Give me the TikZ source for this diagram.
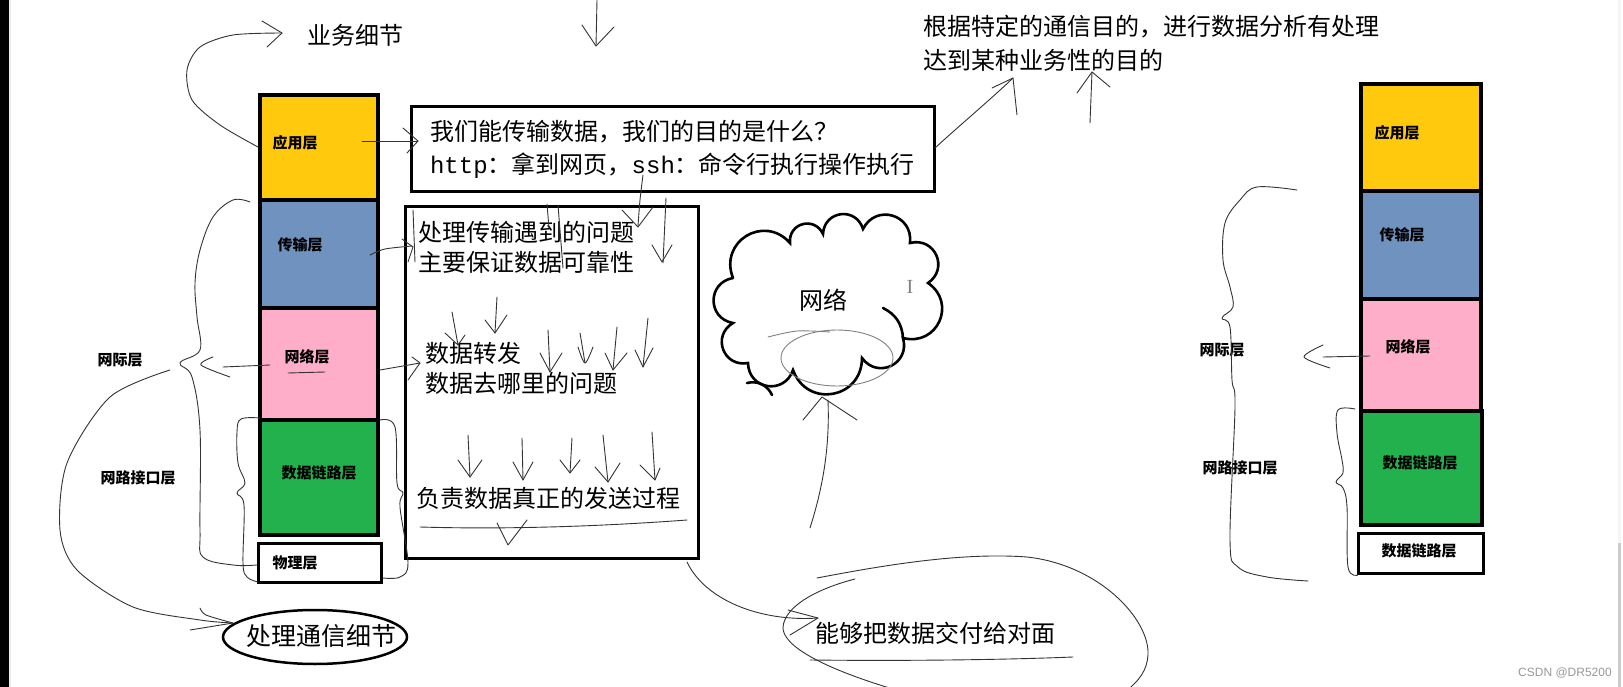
\documentclass[tikz,border=0pt]{standalone}
\usepackage{fontspec}
\setmainfont{Noto Sans CJK SC}
\newfontfamily\monofont{Liberation Mono}
\newfontfamily\latinsans{Liberation Sans}
\newfontfamily\latinserif{Liberation Serif}
\usetikzlibrary{positioning,calc}
\definecolor{appyellow}{RGB}{255,201,14}
\definecolor{transblue}{RGB}{112,146,190}
\definecolor{netpink}{RGB}{255,174,201}
\definecolor{linkgreen}{RGB}{34,177,76}

\begin{document}
\begin{tikzpicture}[x=1pt,y=-1pt,every node/.style={inner sep=0pt},
  lbl/.style={font=\fontsize{15}{15}\selectfont\bfseries},
  big/.style={font=\fontsize{24}{24}\selectfont},
  pen/.style={draw=black!80,line width=0.9pt,line cap=round,line join=round},
  layer/.style={draw=black,line width=3.5pt},
  puff/.style={bend left=80,looseness=1.5}]
\useasboundingbox (0,0) rectangle (1623,687);
\fill[white] (0,0) rectangle (1623,687);
\fill[black] (0,0) rectangle (9,687);
\fill[gray!15] (9,0) rectangle (11,687);
\fill[gray!8] (1618,0) rectangle (1621,543);
\fill[gray!40] (1618,543) rectangle (1621,687);

% left stack
\fill[appyellow] (260,95) rectangle (378,200);
\draw[layer] (260,95) rectangle (378,200);
\node[lbl] (app) at (295,143) {应用层};
\fill[transblue] (260,200) rectangle (378,308);
\draw[layer] (260,200) rectangle (378,308);
\node[lbl] (trans) at (300,245) {传输层};
\fill[netpink] (260,308) rectangle (378,420);
\draw[layer] (260,308) rectangle (378,420);
\node[lbl] (net) at (307,357) {网络层};
\fill[linkgreen] (260,420) rectangle (378,535);
\draw[layer] (260,420) rectangle (378,535);
\node[lbl] (link) at (319,473) {数据链路层};
\draw[line width=3pt] (258,543) rectangle (381,582);
\node[lbl] (phys) at (295,563) {物理层};

\node[lbl] (inter) at (120,360) {网际层};
\node[lbl] (netif) at (138,478) {网路接口层};
\node[big] (biz) at (355,35) {业务细节};
\node[font=\fontsize{25}{25}\selectfont] (comm) at (321,636) {处理通信细节};
\draw[line width=2.5pt] (315,637) ellipse [x radius=92pt,y radius=27pt];

% boxes in the middle
\node[draw,line width=3pt,minimum width=523pt,minimum height=85pt,align=left,
  font=\fontsize{24}{33}\selectfont] (purpose) at (672.5,149.5)
  {我们能传输数据，我们的目的是什么？\\{\monofont http}：拿到网页，{\monofont ssh}：命令行执行操作执行};
\node[draw,line width=3pt,minimum width=293pt,minimum height=351pt] (duties) at (551.5,382.5) {};
\node[big,anchor=west] (t1) at (418,232) {处理传输遇到的问题};
\node[big,anchor=west] (t2) at (418,262) {主要保证数据可靠性};
\node[big,anchor=west] (t3) at (425,353) {数据转发};
\node[big,anchor=west] (t4) at (425,383) {数据去哪里的问题};
\node[big,anchor=west] (t5) at (416,498) {负责数据真正的发送过程};
\node[big,anchor=west] (goal1) at (923,27) {根据特定的通信目的，进行数据分析有处理};
\node[big,anchor=west] (goal2) at (923,60) {达到某种业务性的目的};
\node[big,anchor=west] (deliver) at (815,633) {能够把数据交付给对面};

% cloud
\draw[line width=2.6pt,line cap=round] (733,278) to[puff] (790,243) to[puff] (823,234)
  to[puff] (863,229) to[puff] (910,243) to[puff] (928,283) to[puff] (903,338)
  to[puff] (862,358) to[puff] (793,370) to[puff] (748,363) to[puff] (733,323) to[puff] (733,278);
\draw[line width=2.6pt,line cap=round] (883,308) to[bend left=30] (903,338);
\draw[line width=2.6pt,line cap=round] (747,383) to[bend left=40] (772,395);
\node[big] (netw) at (823,300) {网络};
\node[text=gray,font=\latinserif\fontsize{20}{20}\selectfont] (cursor) at (910,287) {I};
\draw[pen,draw=gray] (837,358) ellipse [x radius=56pt,y radius=28pt];
\draw[pen,draw=gray] plot[smooth] coordinates {(768,337) (797,331) (830,332)};

% freehand strokes, left
\draw[pen] plot[smooth] coordinates {(258,147) (220,125) (192,100) (187,70) (200,47) (233,35) (282,33)};
\draw[pen] (262,21) -- (282,33) -- (267,47);
\draw[pen] (362,141) -- (418,141);
\draw[pen] (403,128) -- (418,141) -- (407,153);
\draw[pen] plot[smooth] coordinates {(370,255) (385,249) (412,246)};
\draw[pen] (402,239) -- (413,247) -- (408,262);
\draw[pen] (413,210) -- (415,262);
\draw[pen] (380,370) -- (420,363);
\draw[pen] (412,357) -- (420,363) -- (408,380);
\draw[pen] (270,365) -- (223,367);
\draw[pen] plot[smooth] coordinates {(213,357) (201,365) (230,377)};
\draw[pen] (288,373) -- (325,372);
\draw[pen] plot[smooth,tension=0.6] coordinates {(250,202) (233,200) (213,217) (200,250) (195,283) (197,317) (200,350) (180,363) (192,377) (200,430) (200,530) (203,557) (233,565) (257,565)};
\draw[pen] plot[smooth,tension=0.6] coordinates {(260,418) (241,419) (237,432) (238,463) (245,483) (237,493) (244,505) (243,563) (247,577) (258,582)};
\draw[pen] plot[smooth,tension=0.6] coordinates {(380,420) (395,427) (397,483) (403,493) (400,507) (408,563) (400,577) (383,578)};
\draw[pen] plot[smooth] coordinates {(170,370) (110,397) (67,463) (60,530) (77,570) (133,607) (200,620) (233,623)};
\draw[pen] plot[smooth] coordinates {(200,608) (206,615) (233,623)};
\draw[pen] (190,630) -- (233,623);

% freehand strokes, middle
\draw[pen] (597,0) -- (596,46);
\draw[pen] (582,25) -- (596,46) -- (614,27);
\draw[pen] plot[smooth] coordinates {(643,175) (640,200) (638,226)};
\draw[pen] (622,210) -- (638,227) -- (653,207);
\draw[pen] (666,198) -- (663,263);
\draw[pen] (652,245) -- (662,262) -- (672,245);
\draw[pen] (558,205) -- (563,268);
\draw[pen] (547,204) -- (549,228);
\draw[pen] (452,312) -- (458,345);
\draw[pen] (445,333) -- (458,345) -- (465,335);
\draw[pen] (497,297) -- (495,333);
\draw[pen] (485,320) -- (495,333) -- (507,315);
\draw[pen] (548,330) -- (550,372);
\draw[pen] (540,353) -- (550,372) -- (562,353);
\draw[pen] (580,333) -- (585,363);
\draw[pen] plot[smooth] coordinates {(578,347) (585,363) (593,347)};
\draw[pen] (617,327) -- (613,370);
\draw[pen] (605,353) -- (613,370) -- (627,353);
\draw[pen] (648,318) -- (643,367);
\draw[pen] (635,350) -- (643,367) -- (653,348);
\draw[pen] (468,435) -- (470,477);
\draw[pen] (458,460) -- (470,477) -- (482,460);
\draw[pen] (522,438) -- (523,480);
\draw[pen] (513,462) -- (523,480) -- (533,462);
\draw[pen] (572,438) -- (570,473);
\draw[pen] (560,460) -- (570,473) -- (580,460);
\draw[pen] (603,435) -- (608,482);
\draw[pen] (595,467) -- (608,482) -- (620,463);
\draw[pen] (652,432) -- (655,480);
\draw[pen] (640,465) -- (655,480) -- (660,468);
\draw[pen] (420,527) .. controls (520,530) and (620,525) .. (687,520);
\draw[pen] (497,523) -- (508,545) -- (527,520);
\draw[pen] (687,562) .. controls (705,600) and (760,622) .. (818,618);
\draw[pen] (788,610) -- (818,618) -- (790,635);
\draw[pen] (817,578) .. controls (880,566) and (960,552) .. (1027,557) .. controls (1100,565) and (1150,620) .. (1148,655) .. controls (1147,670) and (1140,680) .. (1125,692);
\draw[pen] (855,579) .. controls (820,588) and (785,605) .. (783,627) .. controls (782,645) and (820,668) .. (903,692);
\draw[pen] (810,660) .. controls (900,661) and (1000,660) .. (1073,657);
\draw[pen] (810,528) .. controls (822,490) and (830,450) .. (828,400);
\draw[pen] (803,420) -- (822,397) -- (857,420);
\draw[pen] (935,148) .. controls (960,125) and (990,100) .. (1013,78);
\draw[pen] (992,88) -- (1013,78) -- (1017,115);
\draw[pen] (1090,123) -- (1092,72);
\draw[pen] (1077,93) -- (1092,72) -- (1110,87);

% right stack
\fill[appyellow] (1361,84) rectangle (1481,191);
\draw[layer] (1361,84) rectangle (1481,191);
\node[lbl] (rapp) at (1397,133) {应用层};
\fill[transblue] (1361,191) rectangle (1481,299);
\draw[layer] (1361,191) rectangle (1481,299);
\node[lbl] (rtrans) at (1402,235) {传输层};
\fill[netpink] (1361,299) rectangle (1481,411);
\draw[layer] (1361,299) rectangle (1481,411);
\node[lbl] (rnet) at (1408,347) {网络层};
\fill[linkgreen] (1361,411) rectangle (1482,525);
\draw[layer] (1361,411) rectangle (1482,525);
\node[lbl] (rlink) at (1420,463) {数据链路层};
\draw[line width=3pt] (1358,533) rectangle (1483,573);
\node[lbl] (rlink2) at (1419,551) {数据链路层};
\node[lbl] (rinter) at (1222,350) {网际层};
\node[lbl] (rnetif) at (1240,468) {网路接口层};
\draw[pen] (1370,356) -- (1323,357);
\draw[pen] plot[smooth] coordinates {(1323,345) (1304,357) (1330,368)};
\draw[pen] plot[smooth,tension=0.6] coordinates {(1297,190) (1257,187) (1240,200) (1225,223) (1223,260) (1230,287) (1233,307) (1222,318) (1230,327) (1232,380) (1235,407) (1230,540) (1238,567) (1267,577) (1308,581)};
\draw[pen] plot[smooth,tension=0.6] coordinates {(1355,409) (1338,410) (1337,433) (1342,460) (1343,473) (1336,482) (1343,488) (1347,507) (1348,567) (1358,575)};

\node[text=gray!80,font=\latinsans\fontsize{12}{12}\selectfont] (mark) at (1565,673) {CSDN @DR5200};
\end{tikzpicture}
\end{document}
